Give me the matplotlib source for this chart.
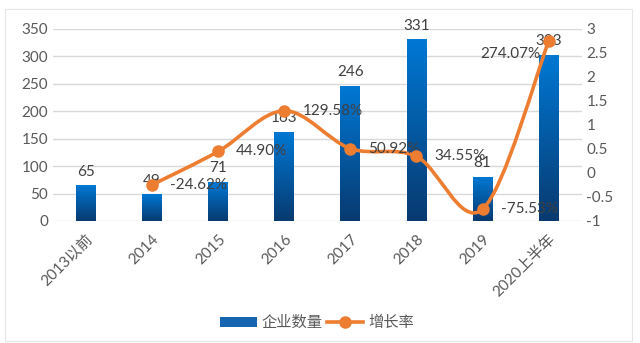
import matplotlib.pyplot as plt
import numpy as np
from matplotlib.path import Path
from matplotlib.patches import PathPatch, Rectangle
from matplotlib.lines import Line2D

plt.rcParams['font.family'] = ['Lato', 'Noto Sans CJK SC', 'DejaVu Sans']

categories = ['2013以前', '2014', '2015', '2016', '2017', '2018', '2019', '2020上半年']
companies = [65, 49, 71, 163, 246, 331, 81, 303]
growth = [None, -0.2462, 0.4490, 1.2958, 0.5092, 0.3455, -0.7553, 2.7407]
growth_labels = [None, '-24.62%', '44.90%', '129.58%', '50.92%', '34.55%', '-75.53%', '274.07%']

BLUE_TOP = np.array([0, 120, 212]) / 255
BLUE_BOT = np.array([8, 58, 112]) / 255
ORANGE = '#ED7D31'
TEXT = '#404040'
TICK = '#595959'


def smooth_path(xs, ys, t=1 / 6):
    # Catmull-Rom style bezier through the points (rendering only)
    pts = np.column_stack([xs, ys])
    verts = [pts[0]]
    codes = [Path.MOVETO]
    n = len(pts)
    for i in range(n - 1):
        p0 = pts[i - 1] if i > 0 else pts[i]
        p1 = pts[i]
        p2 = pts[i + 1]
        p3 = pts[i + 2] if i + 2 < n else pts[i + 1]
        c1 = p1 + (p2 - p0) * t
        c2 = p2 - (p3 - p1) * t
        verts += [c1, c2, p2]
        codes += [Path.CURVE4] * 3
    return Path(verts, codes)


fig = plt.figure(figsize=(6.4, 3.43), dpi=100)
fig.patches.append(Rectangle((0.008, 0.005), 0.98, 0.97, transform=fig.transFigure,
                             fill=False, edgecolor='#e6e6e6', linewidth=0.8))
ax = fig.add_axes([0.0828, 0.3557, 0.826, 0.5598])
ax2 = ax.twinx()

x = np.arange(len(categories))
width = 0.3

# gradient bars
grad = np.linspace(0, 1, 100)[:, None]
cols = BLUE_TOP[None, None, :] * (1 - grad[..., None]) + BLUE_BOT[None, None, :] * grad[..., None]
for xi, v in zip(x, companies):
    rect = Rectangle((xi - width / 2, 0), width, v, facecolor='none', edgecolor='none')
    ax.add_patch(rect)
    im = ax.imshow(cols, extent=[xi - width / 2, xi + width / 2, 0, v], aspect='auto',
                   origin='upper', zorder=2)
    im.set_clip_path(rect)
    ax.text(xi, v + 12, str(v), ha='center', va='bottom', fontsize=11, color=TEXT, zorder=5)

ax.set_xlim(-0.5, len(categories) - 0.5)
ax.set_ylim(0, 350)
ax.set_yticks(range(0, 351, 50))
ax.grid(axis='y', color='#d9d9d9', linewidth=1)
ax.set_axisbelow(True)
for s in ax.spines.values():
    s.set_visible(False)
for s in ax2.spines.values():
    s.set_visible(False)
ax.tick_params(axis='both', length=0, labelsize=11, labelcolor=TICK)
ax.set_xticks(x)
ax.set_xticklabels(categories, rotation=45, ha='right', rotation_mode='anchor')
ax.tick_params(axis='x', pad=8)

# growth line
gx = [xi for xi, g in zip(x, growth) if g is not None]
gy = [g for g in growth if g is not None]
ax2.add_patch(PathPatch(smooth_path(np.array(gx, float), np.array(gy, float)),
                        facecolor='none', edgecolor=ORANGE, linewidth=2.6, zorder=3,
                        capstyle='round'))
ax2.plot(gx, gy, linestyle='none', marker='o', markersize=8, color=ORANGE, zorder=4)
for xi, g, lab in zip(x, growth, growth_labels):
    if g is None:
        continue
    if xi == len(categories) - 1:
        ax2.annotate(lab, (xi, g), xytext=(-6, -9), textcoords='offset points',
                     ha='right', va='center', fontsize=11, color=TEXT)
    else:
        ax2.annotate(lab, (xi, g), xytext=(13, 0), textcoords='offset points',
                     ha='left', va='center', fontsize=11, color=TEXT)
ax2.set_ylim(-1, 3)
ax2.set_yticks(np.arange(-1, 3.01, 0.5))
ax2.set_yticklabels(['-1', '-0.5', '0', '0.5', '1', '1.5', '2', '2.5', '3'])
ax2.tick_params(axis='y', length=0, labelsize=11, labelcolor=TICK)
ax2.set_xlim(-0.5, len(categories) - 0.5)

handles = [Rectangle((0, 0), 1, 1, facecolor='#1565b0', edgecolor='none'),
           Line2D([], [], color=ORANGE, linewidth=2.6, marker='o', markersize=8)]
fig.legend(handles, ['企业数量', '增长率'], loc='center', bbox_to_anchor=(0.495, 0.058),
           ncol=2, frameon=False, fontsize=11, labelcolor=TICK, handlelength=2.4,
           handletextpad=0.3, columnspacing=0.3)

fig.savefig('out.png', dpi=100)
